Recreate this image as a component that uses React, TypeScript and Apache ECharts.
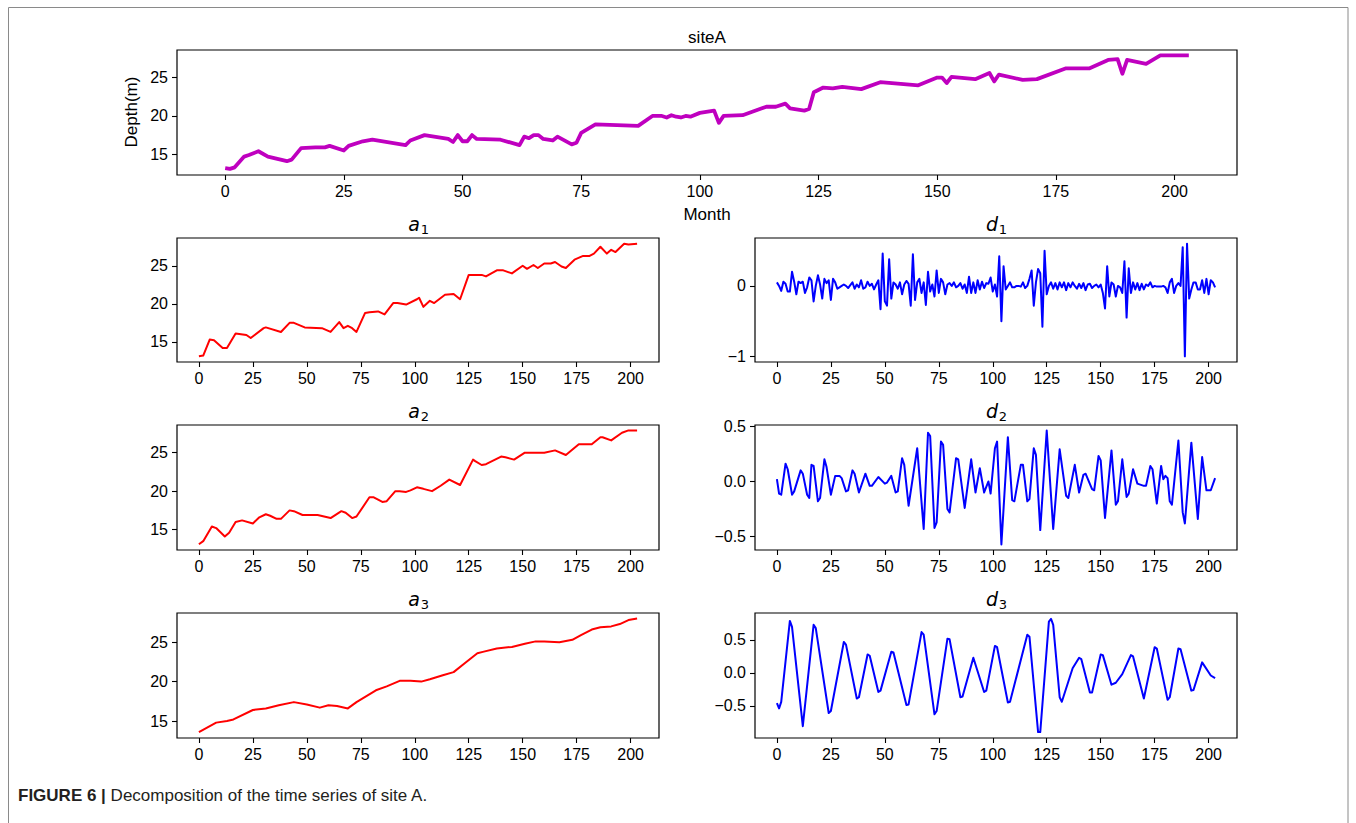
import React, { useEffect, useRef } from "react";
import * as echarts from "echarts";

// ---------- data ----------
const xTicks = [0, 25, 50, 75, 100, 125, 150, 175, 200];

const siteAMonths = [0, 1, 2, 4, 5, 7, 9, 13, 14, 16, 19, 21, 22, 25, 26, 29, 31, 38, 39, 42, 47, 48, 49, 50, 51, 52, 53, 58, 62, 63, 64, 65, 66, 67, 69, 70, 73, 74, 75, 78, 87, 90, 92, 93, 94, 95, 96, 97, 98, 100, 101, 103, 104, 105, 109, 114, 116, 118, 119, 122, 123, 124, 126, 128, 130, 134, 138, 146, 150, 151, 152, 153, 158, 161, 162, 163, 168, 171, 177, 182, 186, 188, 189, 190, 194, 197, 203];
const siteADepth = [13.2, 13.1, 13.3, 14.7, 14.9, 15.4, 14.7, 14.1, 14.3, 15.8, 15.9, 15.9, 16.1, 15.5, 16.1, 16.7, 16.9, 16.2, 16.8, 17.5, 17.0, 16.6, 17.5, 16.7, 16.7, 17.5, 17.0, 16.9, 16.2, 17.3, 17.1, 17.5, 17.5, 17.0, 16.8, 17.3, 16.3, 16.5, 17.8, 18.9, 18.7, 20.0, 20.0, 19.8, 20.1, 19.9, 19.8, 20.0, 19.9, 20.4, 20.5, 20.7, 19.1, 20.0, 20.1, 21.2, 21.2, 21.6, 21.0, 20.7, 20.9, 23.1, 23.7, 23.6, 23.8, 23.5, 24.4, 24.0, 25.0, 25.0, 24.3, 25.1, 24.8, 25.6, 24.5, 25.4, 24.7, 24.8, 26.2, 26.2, 27.3, 27.4, 25.5, 27.3, 26.8, 27.9, 27.9];

const a1Months = [0, 2, 5, 7, 11, 13, 17, 22, 24, 30, 31, 38, 42, 44, 49, 57, 61, 65, 67, 69, 71, 73, 77, 79, 83, 86, 90, 92, 96, 101, 102, 104, 107, 109, 114, 118, 121, 125, 131, 133, 138, 141, 145, 150, 152, 155, 157, 160, 163, 165, 168, 170, 174, 178, 181, 183, 186, 189, 191, 193, 197, 199, 203];
const a1Values = [13.1, 13.2, 15.3, 15.2, 14.2, 14.2, 16.1, 15.9, 15.5, 16.8, 16.9, 16.3, 17.5, 17.5, 16.9, 16.8, 16.3, 17.6, 16.8, 17.1, 16.8, 16.3, 18.8, 18.9, 19.0, 18.6, 20.1, 20.1, 19.9, 20.6, 20.8, 19.6, 20.4, 20.1, 21.2, 21.3, 20.6, 23.8, 23.8, 23.6, 24.4, 24.4, 24.0, 25.0, 24.6, 25.1, 24.7, 25.3, 25.3, 25.5, 24.9, 24.7, 25.8, 26.3, 26.3, 26.6, 27.5, 26.6, 27.1, 26.8, 27.9, 27.8, 27.9];

const a2Months = [0, 2, 6, 8, 12, 14, 17, 20, 25, 28, 31, 33, 36, 38, 42, 44, 48, 55, 61, 66, 68, 71, 73, 79, 81, 85, 87, 91, 93, 96, 98, 101, 104, 108, 112, 116, 121, 127, 128, 131, 133, 140, 142, 146, 151, 160, 165, 170, 176, 182, 186, 187, 191, 196, 199, 203];
const a2Values = [13.1, 13.5, 15.4, 15.2, 14.1, 14.6, 16.0, 16.2, 15.8, 16.6, 17.0, 16.8, 16.4, 16.4, 17.5, 17.4, 16.9, 16.9, 16.5, 17.4, 17.2, 16.5, 16.7, 19.2, 19.2, 18.6, 18.7, 20.0, 20.0, 19.9, 20.1, 20.5, 20.3, 20.0, 20.7, 21.5, 20.8, 24.1, 23.9, 23.4, 23.5, 24.5, 24.4, 24.1, 25.0, 25.0, 25.3, 24.7, 26.1, 26.1, 27.0, 27.0, 26.6, 27.6, 27.9, 27.9];

const a3Months = [0, 8, 13, 16, 25, 31, 37, 44, 50, 56, 60, 64, 69, 73, 82, 87, 93, 98, 103, 107, 113, 118, 123, 129, 132, 138, 145, 151, 156, 160, 167, 173, 177, 182, 186, 191, 195, 199, 203];
const a3Values = [13.6, 14.8, 15.0, 15.2, 16.4, 16.6, 17.0, 17.4, 17.1, 16.7, 17.0, 16.9, 16.6, 17.4, 18.9, 19.4, 20.1, 20.1, 20.0, 20.3, 20.8, 21.2, 22.3, 23.6, 23.8, 24.2, 24.4, 24.8, 25.1, 25.1, 25.0, 25.3, 25.9, 26.6, 26.9, 27.0, 27.3, 27.8, 28.0];

// d1: one value per month, months 0..203
const d1Values = [
  0.05, 0.0, -0.07, 0.06, 0.03, -0.08, -0.08, 0.2, 0.06, -0.12,
  0.06, 0.04, 0.06, -0.1, -0.02, 0.12, 0.08, -0.22, 0.0, 0.15,
  0.02, -0.18, 0.1, 0.04, 0.08, -0.2, 0.1, 0.05, -0.04, -0.02,
  0.0, 0.02, 0.0, -0.03, 0.01, 0.05, -0.04, 0.02, -0.02, 0.08,
  -0.04, -0.02, 0.06, 0.0, 0.03, -0.05, 0.02, 0.08, -0.33, 0.46,
  -0.22, -0.28, 0.38, -0.18, 0.05, 0.02, -0.04, 0.05, -0.12, 0.02,
  0.07, 0.03, -0.28, 0.45, -0.2, 0.05, 0.1, -0.1, 0.05, -0.27,
  0.2, -0.08, 0.02, -0.15, 0.22, -0.1, 0.1, 0.05, -0.12, 0.02,
  0.04, 0.0, 0.05, -0.02, 0.0, 0.04, -0.04, 0.02, -0.1, 0.13,
  -0.1, 0.05, -0.1, 0.08, -0.05, 0.06, -0.03, 0.04, 0.03, 0.12,
  -0.08, 0.02, -0.15, 0.42, -0.5, 0.28, -0.05, 0.0, 0.05, -0.02,
  -0.02, 0.0, 0.0, -0.01, 0.05, -0.03, 0.0, 0.1, 0.22, -0.28,
  0.05, 0.24, 0.18, -0.58, 0.5, -0.12, 0.0, 0.05, -0.04, 0.04,
  -0.05, 0.05, -0.02, 0.05, -0.06, 0.04, -0.02, 0.05, 0.0, -0.04,
  0.03, -0.03, 0.04, -0.06, 0.02, 0.03, -0.03, 0.0, 0.02, -0.02,
  0.02, -0.1, -0.32, 0.28, -0.15, 0.05, 0.02, -0.15, 0.0, -0.02,
  -0.1, 0.35, -0.45, 0.25, -0.1, 0.05, -0.05, 0.04, -0.06, 0.03,
  -0.05, 0.02, 0.0, 0.05, -0.02, 0.0, -0.01, -0.01, -0.01, 0.0,
  -0.02, -0.1, 0.05, 0.1, -0.1, 0.0, 0.04, 0.0, 0.55, -1.0,
  0.6, -0.18, -0.05, 0.05, 0.05, -0.05, -0.05, 0.08, -0.1, 0.1,
  -0.12, 0.08, 0.05, -0.02,
];

const d2Months = [0, 1, 2, 4, 5, 7, 8, 11, 12, 14, 15, 16, 17, 19, 20, 22, 23, 25, 27, 29, 30, 32, 33, 35, 36, 38, 41, 43, 44, 47, 50, 51, 53, 55, 56, 58, 59, 61, 65, 68, 70, 71, 73, 74, 76, 77, 79, 80, 83, 84, 87, 90, 92, 94, 96, 98, 99, 101, 102, 104, 107, 109, 110, 113, 114, 116, 117, 119, 120, 122, 125, 128, 131, 134, 135, 138, 140, 142, 143, 146, 147, 149, 150, 152, 155, 157, 158, 160, 162, 163, 165, 167, 170, 171, 173, 174, 176, 178, 179, 180, 181, 182, 183, 186, 188, 189, 192, 195, 197, 199, 201, 203];
const d2Values = [0.02, -0.11, -0.12, 0.16, 0.11, -0.12, -0.09, 0.1, 0.07, -0.12, -0.15, 0.15, 0.14, -0.18, -0.15, 0.2, 0.13, -0.12, 0.05, 0.05, 0.03, -0.09, -0.08, 0.1, 0.07, -0.1, 0.07, -0.04, -0.04, 0.04, -0.02, -0.01, 0.05, -0.1, -0.09, 0.21, 0.15, -0.22, 0.3, -0.43, 0.44, 0.41, -0.42, -0.37, 0.36, 0.33, -0.25, -0.28, 0.21, 0.2, -0.24, 0.2, -0.1, 0.12, -0.1, 0.0, -0.11, 0.3, 0.36, -0.57, 0.4, -0.17, -0.18, 0.15, 0.15, -0.18, -0.16, 0.3, 0.24, -0.44, 0.46, -0.43, 0.29, -0.13, -0.15, 0.15, -0.1, 0.06, 0.07, -0.07, -0.08, 0.23, 0.19, -0.33, 0.28, -0.21, -0.18, 0.2, -0.14, -0.11, 0.11, -0.02, -0.04, -0.04, 0.14, 0.11, -0.2, 0.14, 0.02, 0.05, 0.03, -0.18, -0.21, 0.37, -0.28, -0.38, 0.35, -0.34, 0.22, -0.08, -0.08, 0.03];

const d3Months = [0, 1, 2, 6, 7, 12, 17, 18, 24, 25, 31, 32, 37, 38, 42, 43, 47, 48, 53, 54, 60, 61, 67, 68, 73, 74, 79, 80, 85, 86, 91, 96, 97, 101, 102, 107, 108, 116, 117, 121, 122, 126, 127, 128, 131, 132, 137, 140, 141, 145, 146, 150, 151, 155, 157, 160, 164, 165, 170, 175, 176, 181, 182, 186, 187, 192, 193, 197, 201, 203];
const d3Values = [-0.46, -0.54, -0.44, 0.79, 0.7, -0.81, 0.73, 0.68, -0.61, -0.58, 0.47, 0.43, -0.39, -0.37, 0.28, 0.26, -0.29, -0.27, 0.32, 0.31, -0.49, -0.48, 0.62, 0.58, -0.63, -0.58, 0.52, 0.51, -0.37, -0.36, 0.23, -0.29, -0.27, 0.41, 0.39, -0.45, -0.44, 0.58, 0.55, -0.9, -0.9, 0.78, 0.82, 0.73, -0.37, -0.44, 0.07, 0.23, 0.21, -0.3, -0.3, 0.28, 0.27, -0.18, -0.15, -0.02, 0.27, 0.25, -0.39, 0.39, 0.37, -0.41, -0.37, 0.37, 0.36, -0.27, -0.26, 0.16, -0.04, -0.08];

const trendTicks = [15, 20, 25];
const d1Ticks = [-1, 0];
const d23Ticks = [-0.5, 0, 0.5];

// ---------- helpers ----------
const pairs = (xs: number[], ys: number[]) => xs.map((x, i) => [x, ys[i]]);
const indexed = (ys: number[]) => ys.map((y, i) => [i, y]);
const minus = (s: string) => s.replace("-", "\u2212");
const fmtInt = (v: number) => minus(String(Math.round(v)));
const fmt1 = (v: number) => minus((Math.abs(v) < 1e-9 ? 0 : v).toFixed(1));

const FONT = "Liberation Sans, Arial, Helvetica, sans-serif";
const MAG = "#bf00bf";
const RED = "#ff0000";
const BLUE = "#0000ff";

export default function App() {
  const ref = useRef<HTMLDivElement>(null);

  useEffect(() => {
    if (!ref.current) return;
    const chart = echarts.init(ref.current, null, { renderer: "svg" });

    const L = 177, R = 755, W = 482;
    const panels = [
      { name: "siteA", left: L, top: 50, width: 1060, height: 125, ymin: 12.3, ymax: 28.6, ticks: trendTicks, fmt: fmtInt, color: MAG, lw: 3.8, data: pairs(siteAMonths, siteADepth) },
      { name: "a1", left: L, top: 238, width: W, height: 124, ymin: 12.35, ymax: 28.65, ticks: trendTicks, fmt: fmtInt, color: RED, lw: 2, data: pairs(a1Months, a1Values) },
      { name: "d1", left: R, top: 238, width: W, height: 124, ymin: -1.08, ymax: 0.68, ticks: d1Ticks, fmt: fmtInt, color: BLUE, lw: 2, data: indexed(d1Values) },
      { name: "a2", left: L, top: 425, width: W, height: 125, ymin: 12.35, ymax: 28.6, ticks: trendTicks, fmt: fmtInt, color: RED, lw: 2, data: pairs(a2Months, a2Values) },
      { name: "d2", left: R, top: 425, width: W, height: 125, ymin: -0.62, ymax: 0.51, ticks: d23Ticks, fmt: fmt1, color: BLUE, lw: 2, data: pairs(d2Months, d2Values) },
      { name: "a3", left: L, top: 613, width: W, height: 125, ymin: 12.85, ymax: 28.7, ticks: trendTicks, fmt: fmtInt, color: RED, lw: 2, data: pairs(a3Months, a3Values) },
      { name: "d3", left: R, top: 613, width: W, height: 125, ymin: -0.99, ymax: 0.91, ticks: d23Ticks, fmt: fmt1, color: BLUE, lw: 2, data: pairs(d3Months, d3Values) },
    ];

    // panel title such as a₁ : italic letter plus a lowered, smaller digit
    const subTitle = (p: any) => ({
      type: "group",
      x: p.left + p.width / 2,
      y: p.top - 14,
      children: [
        {
          type: "text", x: -4, y: 0,
          style: { text: p.name[0], fontFamily: "DejaVu Sans", fontStyle: "italic", fontSize: 19, fill: "#000", align: "center", verticalAlign: "middle" },
        },
        {
          type: "text", x: 7, y: 5,
          style: { text: p.name[1], fontFamily: "DejaVu Sans", fontSize: 13, fill: "#000", align: "center", verticalAlign: "middle" },
        },
      ],
    });

    const option: any = {
      animation: false,
      backgroundColor: "#ffffff",
      grid: panels.map((p) => ({
        left: p.left, top: p.top, width: p.width, height: p.height,
        show: true, borderColor: "#000", borderWidth: 1.2, backgroundColor: "transparent",
      })),
      xAxis: panels.map((p, i) => ({
        type: "value", gridIndex: i, min: -10.15, max: 213.15,
        axisLine: { show: false, onZero: false },
        splitLine: { show: false },
        axisTick: { show: true, customValues: xTicks, length: 5, lineStyle: { color: "#000", width: 1.1 } },
        axisLabel: { customValues: xTicks, fontSize: 16, color: "#000", fontFamily: FONT, margin: 8 },
      })),
      yAxis: panels.map((p, i) => ({
        type: "value", gridIndex: i, min: p.ymin, max: p.ymax,
        axisLine: { show: false, onZero: false },
        splitLine: { show: false },
        axisTick: { show: true, customValues: p.ticks, length: 5, lineStyle: { color: "#000", width: 1.1 } },
        axisLabel: { customValues: p.ticks, fontSize: 16, color: "#000", fontFamily: FONT, margin: 9, formatter: p.fmt },
      })),
      series: panels.map((p, i) => ({
        type: "line", name: p.name, xAxisIndex: i, yAxisIndex: i,
        data: p.data, showSymbol: false, symbol: "none", silent: true,
        lineStyle: { color: p.color, width: p.lw, join: "round" },
      })),
      graphic: [
        { type: "rect", shape: { x: 8.5, y: 7.5, width: 1339.5, height: 900 }, style: { fill: "none", stroke: "#8a8a8a", lineWidth: 1 }, silent: true },
        { type: "text", x: 707, y: 37, style: { text: "siteA", fontSize: 17, fontFamily: FONT, fill: "#000", align: "center", verticalAlign: "middle" } },
        { type: "text", x: 131, y: 112, rotation: Math.PI / 2, style: { text: "Depth(m)", fontSize: 17, fontFamily: FONT, fill: "#000", align: "center", verticalAlign: "middle" } },
        { type: "text", x: 707, y: 214, style: { text: "Month", fontSize: 17, fontFamily: FONT, fill: "#000", align: "center", verticalAlign: "middle" } },
        ...panels.slice(1).map(subTitle),
        {
          type: "text", x: 18, y: 795,
          style: {
            text: "{b|FIGURE 6 |}{r| Decomposition of the time series of site A.}",
            verticalAlign: "middle", align: "left",
            rich: {
              b: { fontFamily: FONT, fontSize: 17, fontWeight: "bold", fill: "#231f20" },
              r: { fontFamily: FONT, fontSize: 17, fill: "#231f20" },
            },
          },
        },
      ],
    };

    chart.setOption(option);
    return () => chart.dispose();
  }, []);

  return (
    <div
      ref={ref}
      style={{ position: "absolute", left: 0, top: 0, width: 1356, height: 823, background: "#fff" }}
    />
  );
}
